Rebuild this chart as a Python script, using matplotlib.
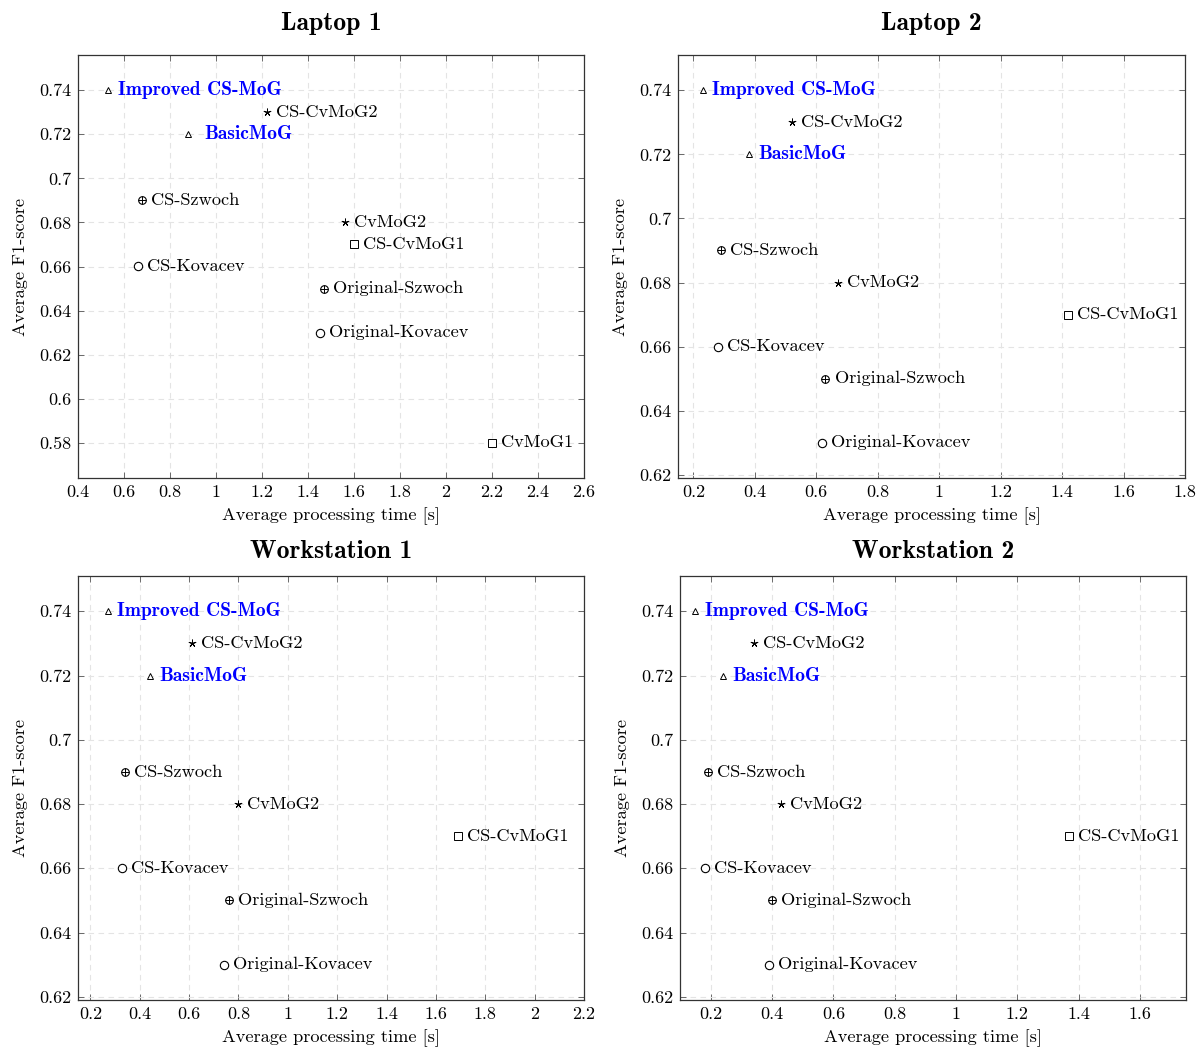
import matplotlib
matplotlib.use("Agg")
import matplotlib.pyplot as plt
from matplotlib.ticker import FuncFormatter, MultipleLocator

plt.rcParams['font.family'] = ['cmr10', 'DejaVu Serif']
plt.rcParams['mathtext.fontset'] = 'cm'
plt.rcParams['axes.formatter.use_mathtext'] = True

methods = ["Improved CS-MoG", "CS-CvMoG2", "BasicMoG", "CS-Szwoch", "CvMoG2",
           "CS-CvMoG1", "CS-Kovacev", "Original-Szwoch", "Original-Kovacev", "CvMoG1"]
markers = ["tri", "star", "tri", "oplus", "star", "sq", "circ", "oplus", "circ", "sq"]
highlight = [True, False, True, False, False, False, False, False, False, False]

f1_scores = [0.74, 0.73, 0.72, 0.69, 0.68, 0.67, 0.66, 0.65, 0.63, 0.58]

titles = ["Laptop 1", "Laptop 2", "Workstation 1", "Workstation 2"]

time_laptop1 = [0.53, 1.22, 0.88, 0.68, 1.56, 1.60, 0.66, 1.47, 1.45, 2.20]
time_laptop2 = [0.23, 0.52, 0.38, 0.29, 0.67, 1.42, 0.28, 0.63, 0.62]
time_ws1 = [0.27, 0.61, 0.44, 0.34, 0.80, 1.69, 0.33, 0.76, 0.74]
time_ws2 = [0.15, 0.34, 0.24, 0.19, 0.43, 1.37, 0.18, 0.40, 0.39]
times = [time_laptop1, time_laptop2, time_ws1, time_ws2]

xlims = [(0.4, 2.6), (0.15, 1.8), (0.15, 2.2), (0.1, 1.75)]
ylims = [(0.564, 0.756), (0.619, 0.751), (0.619, 0.751), (0.619, 0.751)]

W, H = 1196, 1048
fig = plt.figure(figsize=(W / 100, H / 100), dpi=100)
rects_px = [(78, 55, 584, 478), (678, 55, 1185, 478), (78, 576, 584, 1000), (680, 576, 1186, 1000)]

fmt = FuncFormatter(lambda v, p: f"{v:g}")

for i, (l, t, r, b) in enumerate(rects_px):
    ax = fig.add_axes([l / W, (H - b) / H, (r - l) / W, (b - t) / H])
    xs = times[i]
    n = len(xs)
    for j in range(n):
        x, y, m = xs[j], f1_scores[j], markers[j]
        if m == "tri":
            ax.plot(x, y, marker='^', ms=5, mfc='white', mec='black', mew=0.7, zorder=3)
        elif m == "star":
            ax.plot(x, y, marker=(5, 2, 0), ms=5.5, mec='black', mew=0.7, zorder=3)
        elif m == "sq":
            ax.plot(x, y, marker='s', ms=5.5, mfc='white', mec='black', mew=0.7, zorder=3)
        elif m == "circ":
            ax.plot(x, y, marker='o', ms=6, mfc='white', mec='black', mew=0.8, zorder=3)
        elif m == "oplus":
            ax.plot(x, y, marker='o', ms=5.5, mfc='white', mec='black', mew=0.8, zorder=3)
            ax.plot(x, y, marker='+', ms=5.5, mec='black', mew=0.7, zorder=4)
        if highlight[j]:
            off = 11.5 if (i == 0 and j == 2) else 7
            ax.annotate(methods[j], (x, y), xytext=(off, 0), textcoords='offset points',
                        ha='left', va='center', fontsize=14, color='#0000ff',
                        family='cmb10')
        else:
            ax.annotate(methods[j], (x, y), xytext=(6.5, 0), textcoords='offset points',
                        ha='left', va='center', fontsize=13.2, color='black')
    ax.set_xlim(*xlims[i])
    ax.set_ylim(*ylims[i])
    ax.xaxis.set_major_locator(MultipleLocator(0.2))
    ax.yaxis.set_major_locator(MultipleLocator(0.02))
    ax.xaxis.set_major_formatter(fmt)
    ax.yaxis.set_major_formatter(fmt)
    ax.tick_params(direction='in', top=True, right=True, length=4, width=0.6,
                   color='#555555', labelsize=13, pad=5)
    ax.grid(True, linestyle=(0, (5, 4)), color='#e4e4e4', linewidth=0.8)
    ax.set_axisbelow(True)
    for s in ax.spines.values():
        s.set_linewidth(0.9)
        s.set_color('#333333')
    ax.set_xlabel("Average processing time [s]", fontsize=13.2, labelpad=5)
    ax.set_ylabel("Average F1-score", fontsize=13.2, labelpad=8)
    ax.set_title(titles[i], fontsize=18.5, family='cmb10', pad=18 if i < 2 else 13)

fig.savefig("out.png", dpi=100)
